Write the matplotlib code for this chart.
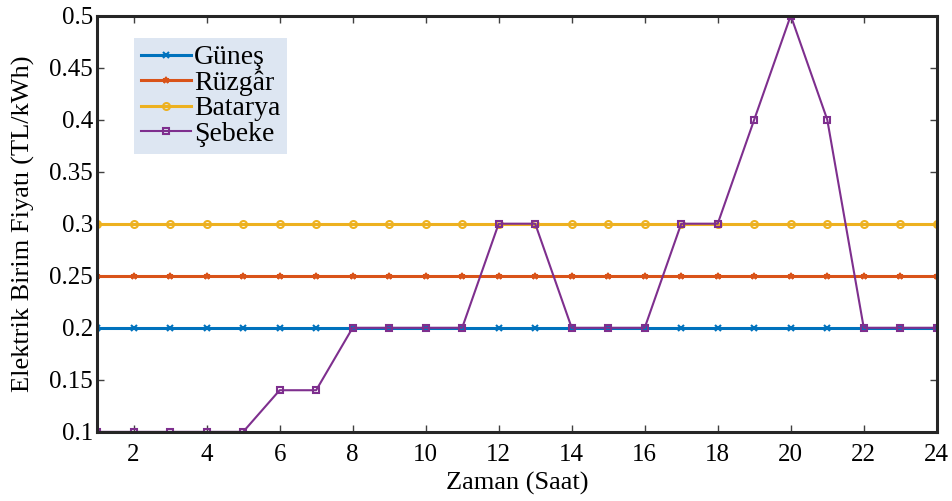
import numpy as np
import matplotlib.pyplot as plt

plt.rcParams['font.family'] = ['Liberation Serif', 'DejaVu Serif']

# Saatlik birim fiyatlar (TL/kWh)
saat = np.arange(1, 25)
gunes = [0.2] * 24
ruzgar = [0.25] * 24
batarya = [0.3] * 24
sebeke = [0.1, 0.1, 0.1, 0.1, 0.1, 0.14, 0.14, 0.2, 0.2, 0.2, 0.2, 0.3,
          0.3, 0.2, 0.2, 0.2, 0.3, 0.3, 0.4, 0.5, 0.4, 0.2, 0.2, 0.2]
yticks = [0.1, 0.15, 0.2, 0.25, 0.3, 0.35, 0.4, 0.45, 0.5]
ytick_lbl = ['0.1', '0.15', '0.2', '0.25', '0.3', '0.35', '0.4', '0.45', '0.5']

fig = plt.figure(figsize=(9.52, 5.01), dpi=100)
ax = fig.add_axes([0.102, 0.138, 0.882, 0.831])

ax.plot(saat, gunes, '-x', color='#0072BD', lw=2.2, ms=4, mew=1.5, label='Güneş')
ax.plot(saat, ruzgar, '-*', color='#D95319', lw=2.2, ms=5, mew=1.2, label='Rüzgâr')
ax.plot(saat, batarya, '-o', color='#EDB120', lw=2.2, ms=5, mew=1.5, mfc='none', label='Batarya')
ax.plot(saat, sebeke, '-s', color='#7E2F8E', lw=1.5, ms=5, mew=1.5, mfc='none', label='Şebeke')

ax.set_xlim(1, 24)
ax.set_ylim(0.1, 0.5)
ax.set_xticks(np.arange(2, 25, 2))
ax.set_yticks(yticks)
ax.set_yticklabels(ytick_lbl)
ax.tick_params(direction='in', top=True, right=True, length=5, width=1,
               color='#404040', labelsize=18)
ax.tick_params(axis='x', pad=9)
ax.tick_params(axis='y', pad=3)
for sp in ax.spines.values():
    sp.set_linewidth(2.2)
    sp.set_color('#262626')

ax.set_xlabel('Zaman (Saat)', fontsize=19, labelpad=4)
ax.set_ylabel('Elektrik Birim Fiyatı (TL/kWh)', fontsize=19, labelpad=10)

leg = ax.legend(loc='upper left', bbox_to_anchor=(0.044, 0.946), fontsize=20,
                frameon=True, fancybox=False, handlelength=1.8, handletextpad=0.1,
                labelspacing=0.0, borderpad=0.25, borderaxespad=0)
leg.get_frame().set_facecolor('#dde6f2')
leg.get_frame().set_edgecolor('none')
leg.get_frame().set_alpha(1)

fig.savefig('out.png', dpi=100)
